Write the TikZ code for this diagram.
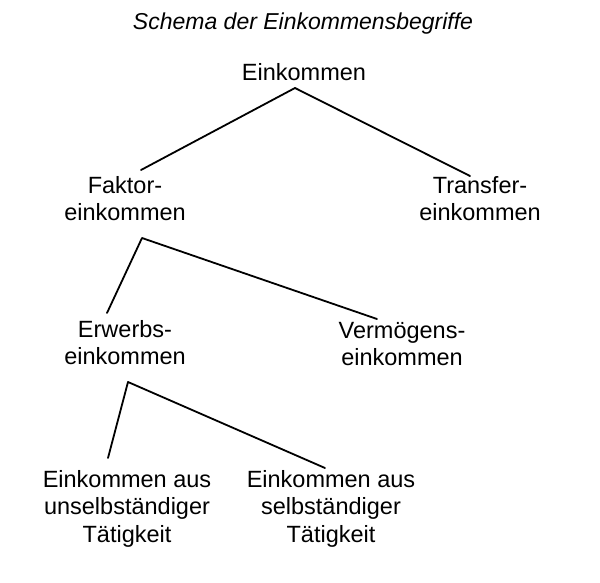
\documentclass[tikz,border=0pt]{standalone}
\usepackage{fontspec}
\setmainfont{Liberation Sans}
\begin{document}
\begin{tikzpicture}[x=1pt,y=-1pt,
  lbl/.style={anchor=north,inner sep=0pt,align=center,font=\fontsize{23.5}{27.5}\selectfont},
  ttl/.style={anchor=base,inner sep=0pt,font=\fontsize{23}{27}\selectfont\itshape},
  conn/.style={line width=1.8pt,line cap=round,line join=round}]
\useasboundingbox (0,0) rectangle (600,583);
\def\sh{19.25}
\node[ttl] (title) at (303,30) {Schema der Einkommensbegriffe};
\node[lbl] (ein) at (304,80-\sh) {\strut Einkommen};
\node[lbl] (fak) at (125,193-\sh) {\strut Faktor-\\einkommen};
\node[lbl] (tra) at (480,193-\sh) {\strut Transfer-\\einkommen};
\node[lbl] (erw) at (125,337-\sh) {\strut Erwerbs-\\einkommen};
\node[lbl] (ver) at (402,338-\sh) {\strut Vermögens-\\einkommen};
\node[lbl] (uns) at (127,487-\sh) {\strut Einkommen aus\\unselbständiger\\Tätigkeit};
\node[lbl] (sel) at (331,487-\sh) {\strut Einkommen aus\\selbständiger\\Tätigkeit};
\coordinate (einb) at (295,88);
\coordinate (fakt) at (141,170);
\coordinate (trat) at (470,176);
\coordinate (fakb) at (142,238);
\coordinate (erwt) at (107,313);
\coordinate (vert) at (377,319);
\coordinate (erwb) at (128,382);
\coordinate (unst) at (108,458);
\coordinate (selt) at (325,468);
\draw[conn] (fakt) -- (einb) -- (trat);
\draw[conn] (erwt) -- (fakb) -- (vert);
\draw[conn] (unst) -- (erwb) -- (selt);
\end{tikzpicture}
\end{document}
